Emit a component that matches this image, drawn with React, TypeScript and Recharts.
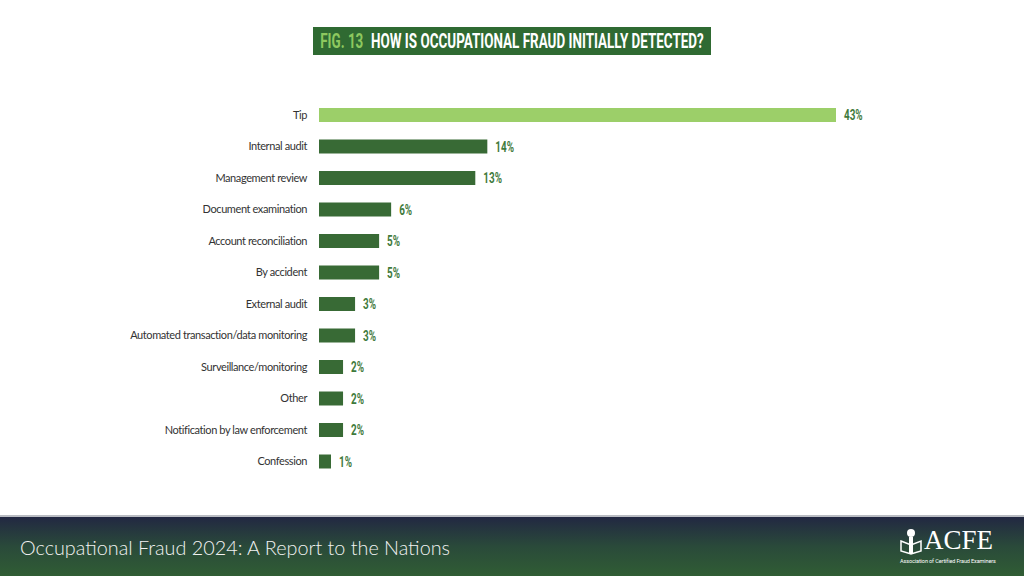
import React from "react";
import { BarChart, Bar, XAxis, YAxis, Cell, LabelList } from "recharts";

const categories = [
  "Tip",
  "Internal audit",
  "Management review",
  "Document examination",
  "Account reconciliation",
  "By accident",
  "External audit",
  "Automated transaction/data monitoring",
  "Surveillance/monitoring",
  "Other",
  "Notification by law enforcement",
  "Confession",
];
const percents = [43, 14, 13, 6, 5, 5, 3, 3, 2, 2, 2, 1];

const chartData = categories.map((name, i) => ({ name, value: percents[i] }));

const TIP_GREEN = "#9ccf69";
const DARK_GREEN = "#386a35";
const LABEL_GREEN = "#3f7a3c";

// condensed bold value label: Roboto squeezed horizontally
const ValueLabel = (props: any) => {
  const { x, y, width, height, value } = props;
  const lx = x + width + 8;
  const ly = y + height / 2;
  return (
    <text
      transform={`translate(${lx},${ly}) scale(0.66,1)`}
      fill={LABEL_GREEN}
      fontSize={15}
      fontWeight={700}
      fontFamily="Roboto, sans-serif"
      dominantBaseline="central"
    >
      {`${value}%`}
    </text>
  );
};

export default function App() {
  return (
    <div
      style={{
        position: "fixed",
        left: 0,
        top: 0,
        width: 1024,
        height: 576,
        background: "#fff",
        overflow: "hidden",
        fontFamily: "Lato, 'Open Sans', sans-serif",
      }}
    >
      {/* title box */}
      <div
        style={{
          position: "absolute",
          left: 313,
          top: 27,
          width: 398,
          height: 28,
          background: "#2f6a32",
          overflow: "hidden",
        }}
      >
        <div
          style={{
            position: "absolute",
            left: "50%",
            top: 0,
            whiteSpace: "nowrap",
            fontFamily: "Roboto, sans-serif",
            fontWeight: 700,
            fontSize: 21,
            lineHeight: "28px",
            color: "#fff",
            transform: "translateX(-50%) scaleX(0.64)",
          }}
        >
          <span style={{ color: "#8dc85f" }}>FIG. 13</span>
          <span style={{ marginLeft: 12 }}>HOW IS OCCUPATIONAL FRAUD INITIALLY DETECTED?</span>
        </div>
      </div>

      <div style={{ position: "absolute", left: 0, top: 0 }}>
        <BarChart
          width={1024}
          height={576}
          data={chartData}
          layout="vertical"
          margin={{ top: 99, right: 188, bottom: 99, left: 0 }}
        >
          <XAxis type="number" domain={[0, 43]} hide />
          <YAxis
            type="category"
            dataKey="name"
            width={319}
            axisLine={false}
            tickLine={false}
            tickMargin={6}
            interval={0}
            tick={{ fontSize: 11, fill: "#333", fontFamily: "Lato, sans-serif", letterSpacing: -0.4 }}
          />
          <Bar dataKey="value" barSize={14} isAnimationActive={false}>
            {chartData.map((d, i) => (
              <Cell key={d.name} fill={i === 0 ? TIP_GREEN : DARK_GREEN} />
            ))}
            <LabelList dataKey="value" content={ValueLabel} />
          </Bar>
        </BarChart>
      </div>

      {/* footer */}
      <div
        style={{
          position: "absolute",
          left: 0,
          top: 515,
          width: 1024,
          height: 2,
          background: "#b9bcc2",
        }}
      />
      <div
        style={{
          position: "absolute",
          left: 0,
          top: 517,
          width: 1024,
          height: 59,
          background: "linear-gradient(180deg, #222842 0%, #2a4a3a 50%, #305d34 100%)",
        }}
      >
        <div
          style={{
            position: "absolute",
            left: 20,
            top: 18,
            color: "#f2f2f2",
            fontFamily: "Lato, sans-serif",
            fontWeight: 300,
            fontSize: 19.8,
            whiteSpace: "nowrap",
          }}
        >
          Occupational Fraud 2024: A Report to the Nations
        </div>
        <div style={{ position: "absolute", left: 900, top: 10, width: 100, height: 44, color: "#fff" }}>
          <svg width={24} height={30} style={{ position: "absolute", left: 0, top: 0 }}>
            <circle cx={11} cy={6} r={4} fill="#fff" />
            <rect x={9} y={10} width={4} height={17} fill="#fff" />
            <path d="M1 14 L11 18 L21 14 L21 24 L11 27 L1 24 Z" fill="none" stroke="#fff" strokeWidth={1.5} />
          </svg>
          <div
            style={{
              position: "absolute",
              left: 24,
              top: -2,
              fontFamily: "'Liberation Serif', serif",
              fontSize: 27,
              lineHeight: "30px",
            }}
          >
            ACFE
          </div>
          <div
            style={{
              position: "absolute",
              left: 0,
              top: 31,
              fontSize: 5.5,
              fontFamily: "Roboto, sans-serif",
              whiteSpace: "nowrap",
              letterSpacing: -0.1,
            }}
          >
            Association of Certified Fraud Examiners
          </div>
        </div>
      </div>
    </div>
  );
}
